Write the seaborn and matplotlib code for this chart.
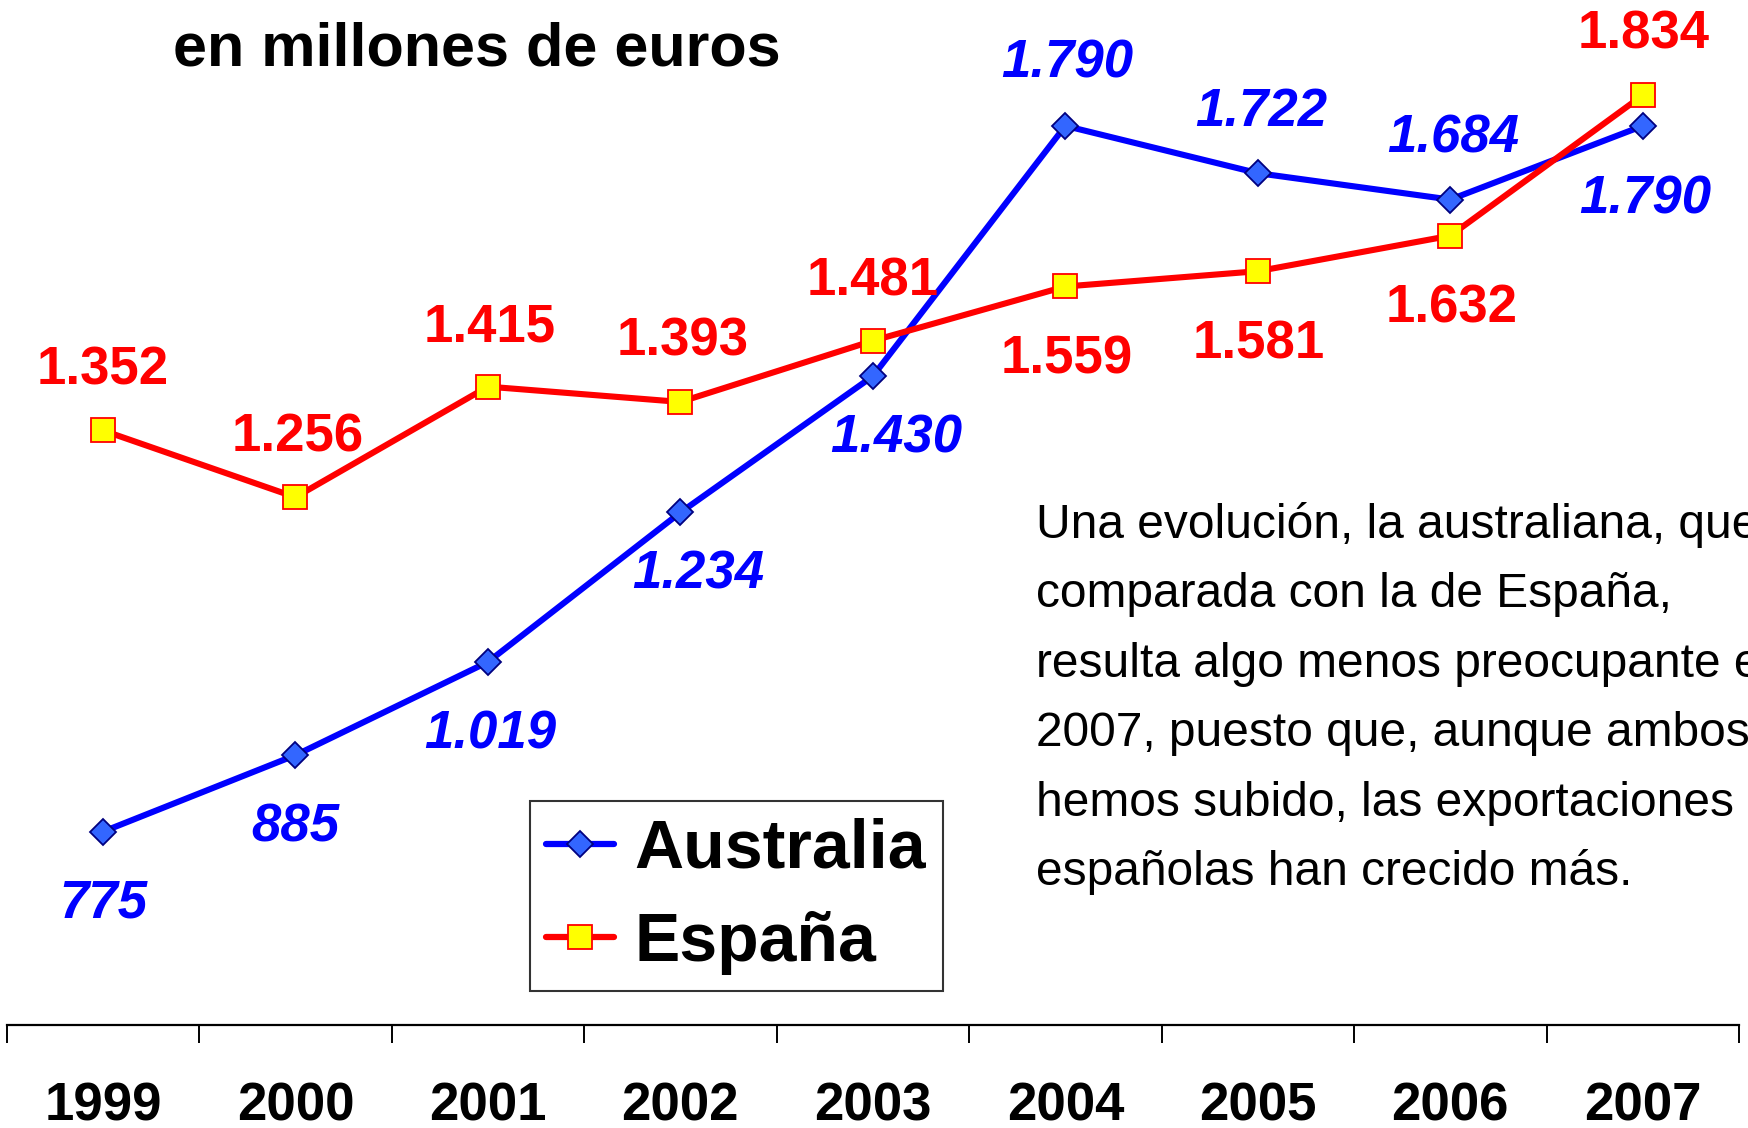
import matplotlib
matplotlib.use("Agg")
import matplotlib.pyplot as plt
import pandas as pd
import seaborn as sns

# Data
years = ["1999", "2000", "2001", "2002", "2003", "2004", "2005", "2006", "2007"]
australia = [775, 885, 1019, 1234, 1430, 1790, 1722, 1684, 1790]
espana = [1352, 1256, 1415, 1393, 1481, 1559, 1581, 1632, 1834]
aus_labels = ["775", "885", "1.019", "1.234", "1.430", "1.790", "1.722", "1.684", "1.790"]
esp_labels = ["1.352", "1.256", "1.415", "1.393", "1.481", "1.559", "1.581", "1.632", "1.834"]

title = "en millones de euros"
note_lines = [
    "Una evolución, la australiana, que",
    "comparada con la de España,",
    "resulta algo menos preocupante en",
    "2007, puesto que, aunque ambos",
    "hemos subido, las exportaciones",
    "españolas han crecido más.",
]

# label offsets (pixels, label centre relative to the point)
aus_off = [(0, -67), (0, -67), (2, -67), (18, -57), (23, -57), (2, 67), (3, 66), (3, 66), (2, -69)]
esp_off = [(0, 65), (2, 65), (2, 64), (2, 65), (0, 64), (1, -68), (1, -68), (1, -68), (1, 66)]

W, H = 1749, 1128

sns.set_style("white")
plt.rcParams["font.family"] = ["Liberation Sans", "DejaVu Sans"]
plt.rcParams["text.color"] = "black"
plt.rcParams["xtick.color"] = "black"

fig = plt.figure(figsize=(W / 100, H / 100), dpi=100)
ax = fig.add_axes([6.7 / W, 1 - 1025 / H, (1739 - 6.7) / W, 1025 / H])

df = pd.DataFrame({"year": years, "Australia": australia, "España": espana})

sns.lineplot(data=df, x="year", y="Australia", ax=ax, color="#0000ff", lw=4.4,
             marker="D", markersize=13.5, markerfacecolor="#3366ff",
             markeredgecolor="#000080", markeredgewidth=1.3, label="Australia")
sns.lineplot(data=df, x="year", y="España", ax=ax, color="#ff0000", lw=4.4,
             marker="s", markersize=17.5, markerfacecolor="#ffff00",
             markeredgecolor="#ff0000", markeredgewidth=1.3, label="España")

ax.set_xlim(-0.5, len(years) - 0.5)
ax.set_ylim(497, 1971)

# data labels
half_cap = 19
for i, (v, lab) in enumerate(zip(espana, esp_labels)):
    dx, dy = esp_off[i]
    ax.annotate(lab, (i, v), xytext=(dx, dy - half_cap), textcoords="offset pixels",
                ha="center", va="baseline", fontsize=38, fontweight="bold", color="#ff0000")
for i, (v, lab) in enumerate(zip(australia, aus_labels)):
    dx, dy = aus_off[i]
    ax.annotate(lab, (i, v), xytext=(dx, dy - half_cap), textcoords="offset pixels",
                ha="center", va="baseline", fontsize=38, fontweight="bold",
                fontstyle="italic", color="#0000ff")

# axes styling
for s in ["top", "right", "left"]:
    ax.spines[s].set_visible(False)
ax.spines["bottom"].set_color("black")
ax.spines["bottom"].set_linewidth(1.6)
ax.set_yticks([])
ax.set_xlabel("")
ax.set_ylabel("")
ax.set_xticks([i - 0.5 for i in range(len(years) + 1)])
ax.set_xticklabels([])
ax.tick_params(axis="x", which="major", direction="out", length=13, width=1.4, color="black", bottom=True)
ax.set_xticks(range(len(years)), minor=True)
ax.set_xticklabels(years, minor=True, fontsize=38, fontweight="bold", color="black")
ax.tick_params(axis="x", which="minor", length=0, pad=41)

leg = ax.legend(loc="upper left", bbox_to_anchor=(530 / W, 1 - 801 / H),
                bbox_transform=fig.transFigure, borderaxespad=0, frameon=True,
                fancybox=False, edgecolor="black", fontsize=49, numpoints=1,
                handlelength=1.0, handletextpad=0.3, borderpad=0.24, labelspacing=0.43)
leg.get_frame().set_linewidth(1.5)
for t in leg.get_texts():
    t.set_fontweight("bold")
    t.set_color("black")
for h in leg.get_lines():
    h.set_linewidth(4.5)

fig.text(173 / W, 1 - 65 / H, title, ha="left", va="baseline", fontsize=44,
         fontweight="bold", color="black")

for k, line in enumerate(note_lines):
    fig.text(1036 / W, 1 - (538 + 69.4 * k) / H, line, ha="left", va="baseline",
             fontsize=34.5, color="black")

fig.savefig("out.png", dpi=100)
